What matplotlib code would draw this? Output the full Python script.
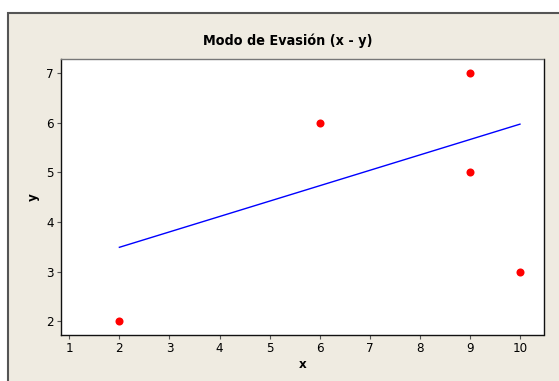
import matplotlib
matplotlib.use("Agg")
import matplotlib.pyplot as plt
from matplotlib.patches import Rectangle

# Data
x_vals = [2, 6, 9, 9, 10]
y_vals = [2, 6, 7, 5, 3]
fit_x = [2, 10]
fit_y = [3.49, 5.97]
x_ticks = [1, 2, 3, 4, 5, 6, 7, 8, 9, 10]
y_ticks = [2, 3, 4, 5, 6, 7]
title = "Modo de Evasión (x - y)"

plt.rcParams["font.stretch"] = "condensed"

W, H = 559, 381
fig = plt.figure(figsize=(W / 100, H / 100), dpi=100)
fig.patch.set_facecolor("white")

bg = "#EFEBE1"
fig.patches.append(Rectangle((8 / W, -0.05), 1.2, (H - 13) / H + 0.05,
                             transform=fig.transFigure, facecolor=bg,
                             edgecolor="#555555", linewidth=1.5, zorder=-10))

ax = fig.add_axes([61 / W, (H - 335.3) / H, (543.5 - 61) / W, (335.3 - 58.7) / H])
ax.set_zorder(5)
ax.set_facecolor("white")

ax.plot(fit_x, fit_y, color="#0000FF", linewidth=1.0, zorder=2)
ax.plot(x_vals, y_vals, linestyle="none", marker="o", markersize=5.8,
        color="#FF0000", markeredgewidth=0, zorder=3)

ax.set_xlim(0.834, 10.47)
ax.set_ylim(1.718, 7.288)
ax.set_xticks(x_ticks)
ax.set_yticks(y_ticks)
ax.tick_params(direction="out", length=3, width=0.8, color="#555555",
               labelsize=9.5, pad=2)

for s in ["left", "bottom", "right"]:
    ax.spines[s].set_color("#111111")
    ax.spines[s].set_linewidth(1.0)
ax.spines["top"].set_color("#777777")
ax.spines["top"].set_linewidth(1.0)

ax.set_xlabel("x", fontsize=9.5, fontweight="bold", labelpad=2)
ax.set_ylabel("y", fontsize=9.5, fontweight="bold", labelpad=5)

fig.text(288 / W, 1 - 41 / H, title, ha="center", va="center",
         fontsize=10.3, fontweight="bold")

fig.savefig("out.png", dpi=100, facecolor=fig.get_facecolor())
